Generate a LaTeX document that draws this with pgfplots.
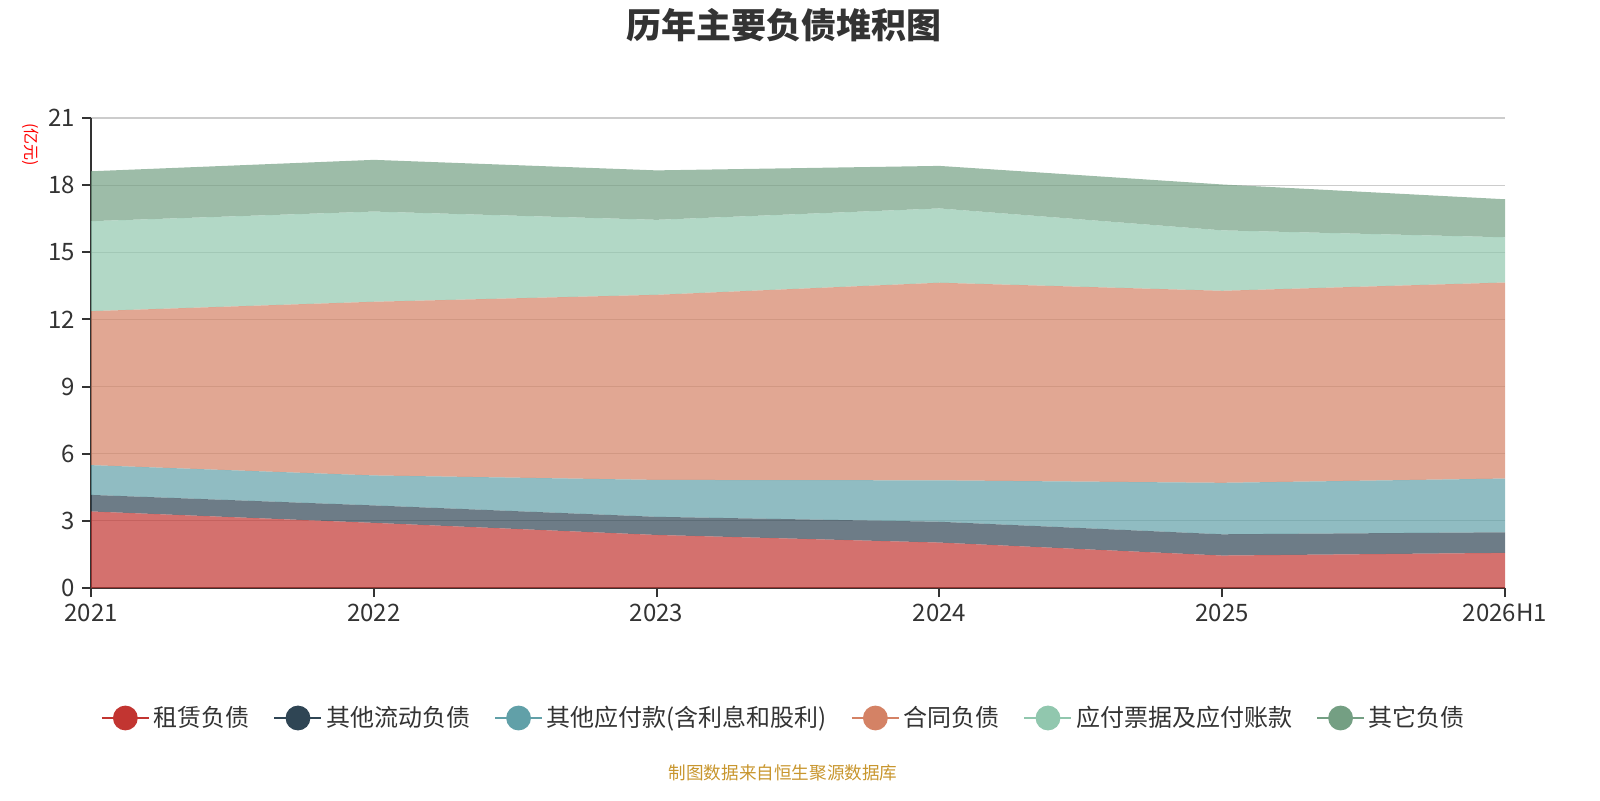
\documentclass[border=0pt]{standalone}
\usepackage{fontspec}
\setmainfont{Noto Sans CJK SC}
\usepackage{pgfplots}
\pgfplotsset{compat=1.18}
\definecolor{c1}{HTML}{C23531}
\definecolor{c2}{HTML}{2F4554}
\definecolor{c3}{HTML}{61A0A8}
\definecolor{c4}{HTML}{D48265}
\definecolor{c5}{HTML}{91C7AE}
\definecolor{c6}{HTML}{749F83}
\definecolor{txt}{HTML}{333333}
\definecolor{gold}{HTML}{C8962E}
\begin{document}
\begin{tikzpicture}
\path (0,0) rectangle (800pt,400pt);
\node[font=\fontsize{17.5pt}{20pt}\selectfont\bfseries, text=txt] at (392pt,387.5pt) {历年主要负债堆积图};
\node[font=\fontsize{8pt}{9pt}\selectfont, text=red, rotate=-90] at (15.5pt,327.5pt) {(亿元)};
\node[font=\fontsize{8.8pt}{10pt}\selectfont, text=gold] at (391.5pt,13.5pt) {制图数据来自恒生聚源数据库};
\begin{axis}[
  at={(45.5pt,106pt)}, anchor=south west,
  scale only axis, width=707pt, height=235pt,
  xmin=0, xmax=5, ymin=0, ymax=21,
  xtick={0,1,2,3,4,5},
  xticklabels={2021,2022,2023,2024,2025,2026H1},
  ytick={0,3,6,9,12,15,18,21},
  axis x line*=bottom, axis y line*=left,
  axis line style={draw=txt, line width=1pt, -},
  tick style={draw=txt, line width=1pt},
  tick align=outside, major tick length=4.5pt,
  ymajorgrids, grid style={draw=black!20, line width=0.6pt},
  tick label style={font=\fontsize{12pt}{14pt}\selectfont, text=txt},
  /pgf/number format/assume math mode=true,
  stack plots=y,
  legend image code/.code={\draw[mark repeat=2,mark phase=2,#1] plot coordinates {(0pt,0pt)(11.75pt,0pt)(23.5pt,0pt)};},
  legend style={at={(0.4908,-0.2766)}, anchor=center, draw=none, fill=none,
    font=\fontsize{12pt}{14pt}\selectfont, text=txt,
    /tikz/every even column/.append style={column sep=10pt}},
  legend columns=6, legend cell align=left,
]
\addplot[fill=c1, fill opacity=0.7, draw=none, forget plot] coordinates {(0,3.42) (1,2.91) (2,2.37) (3,2.03) (4,1.45) (5,1.57)} \closedcycle;
\addplot[fill=c2, fill opacity=0.7, draw=none, forget plot] coordinates {(0,0.74) (1,0.78) (2,0.81) (3,0.93) (4,0.95) (5,0.92)} \closedcycle;
\addplot[fill=c3, fill opacity=0.7, draw=none, forget plot] coordinates {(0,1.33) (1,1.34) (2,1.65) (3,1.85) (4,2.30) (5,2.40)} \closedcycle;
\addplot[fill=c4, fill opacity=0.7, draw=none, forget plot] coordinates {(0,6.88) (1,7.76) (2,8.27) (3,8.83) (4,8.58) (5,8.76)} \closedcycle;
\addplot[fill=c5, fill opacity=0.7, draw=none, forget plot] coordinates {(0,4.02) (1,4.03) (2,3.35) (3,3.32) (4,2.70) (5,2.02)} \closedcycle;
\addplot[fill=c6, fill opacity=0.7, draw=none, forget plot] coordinates {(0,2.23) (1,2.31) (2,2.21) (3,1.90) (4,2.05) (5,1.70)} \closedcycle;
\addlegendimage{color=c1, line width=0.8pt, mark=*, mark size=5.8pt, mark options={fill=c1, draw=c1}}
\addlegendentry{租赁负债}
\addlegendimage{color=c2, line width=0.8pt, mark=*, mark size=5.8pt, mark options={fill=c2, draw=c2}}
\addlegendentry{其他流动负债}
\addlegendimage{color=c3, line width=0.8pt, mark=*, mark size=5.8pt, mark options={fill=c3, draw=c3}}
\addlegendentry{其他应付款(含利息和股利)}
\addlegendimage{color=c4, line width=0.8pt, mark=*, mark size=5.8pt, mark options={fill=c4, draw=c4}}
\addlegendentry{合同负债}
\addlegendimage{color=c5, line width=0.8pt, mark=*, mark size=5.8pt, mark options={fill=c5, draw=c5}}
\addlegendentry{应付票据及应付账款}
\addlegendimage{color=c6, line width=0.8pt, mark=*, mark size=5.8pt, mark options={fill=c6, draw=c6}}
\addlegendentry{其它负债}
\end{axis}
\end{tikzpicture}
\end{document}
